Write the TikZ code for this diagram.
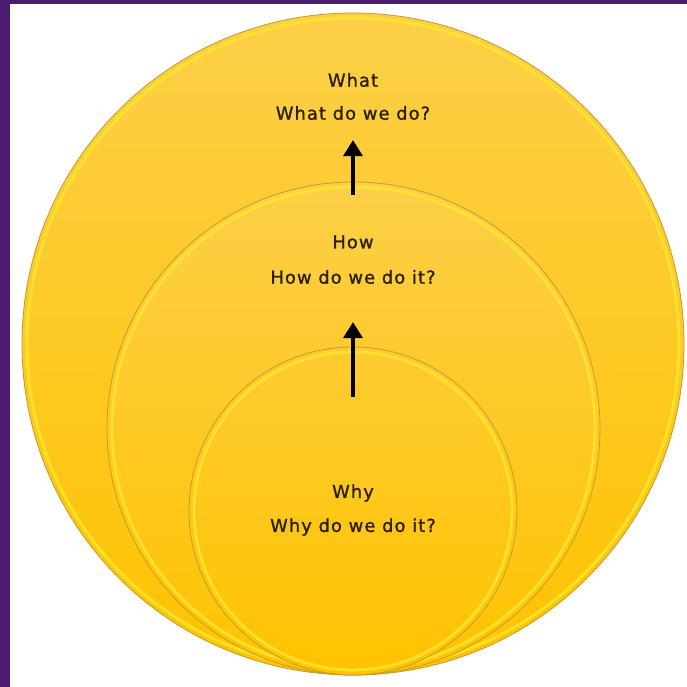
\documentclass[tikz,border=0pt]{standalone}
\usepackage{fontspec}
\newfontfamily\circlefont[LetterSpace=6,FakeBold=1.3]{DejaVu Sans}
\usetikzlibrary{arrows.meta}

\definecolor{framepurple}{HTML}{4A1B6E}
\definecolor{rimgold}{HTML}{C39B2C}
\definecolor{glowyellow}{HTML}{FFE62E}
\definecolor{sunlight}{HTML}{FCCF48}
\definecolor{sundeep}{HTML}{FFC300}
\definecolor{inkbrown}{HTML}{2A2108}

\tikzset{
  labeltext/.style={inner sep=0.75pt, text=inkbrown, font=\circlefont\fontsize{13.4}{16}\selectfont},
  rim/.style={draw=rimgold, line width=0.6pt},
  glow/.style={draw=glowyellow, line width=2.2pt, opacity=0.85},
  uparrow/.style={line width=3.6pt, -{Triangle[width=14pt,length=12pt]}}
}

\begin{document}
\begin{tikzpicture}[x=0.75pt,y=0.75pt,yscale=-1,xscale=1]
\useasboundingbox (0,0) rectangle (687,687);
\fill[white] (0,0) rectangle (687,687);

%Shape: Rectangle [frame]
\fill[framepurple] (0,0) rectangle (10,687);
\fill[framepurple] (0,0) rectangle (687,4);

%Shape: Circle [what]
\shade[top color=sunlight, bottom color=sundeep] (353,344) circle (331);
\draw[glow] (353,344) circle (326);
\draw[rim] (353,344) circle (331);
%Shape: Circle [how]
\shade[top color=sunlight, bottom color=sundeep] (353.5,428.5) circle (246.5);
\draw[glow] (353.5,428.5) circle (241.5);
\draw[rim] (353.5,428.5) circle (246.5);
%Shape: Circle [why]
\shade[top color=sunlight!70!sundeep, bottom color=sundeep] (353,511) circle (164);
\draw[glow] (353,511) circle (159);
\draw[rim] (353,511) circle (164);

% Text Node
\node[labeltext] (what) at (353,80) {What};
\node[labeltext] (whatq) at (353,113) {What do we do?};
% Text Node
\node[labeltext] (how) at (353,242) {How};
\node[labeltext] (howq) at (353,277) {How do we do it?};
% Text Node
\node[labeltext] (why) at (353,493) {Why};
\node[labeltext] (whyq) at (353,527) {Why do we do it?};

%Straight Lines [arrows]
\coordinate (howfoot) at (353,195);
\coordinate (whathead) at (353,140);
\coordinate (whyfoot) at (353,397);
\coordinate (howhead) at (353,322);
\draw[uparrow] (howfoot) -- (whathead);
\draw[uparrow] (whyfoot) -- (howhead);
\end{tikzpicture}
\end{document}
